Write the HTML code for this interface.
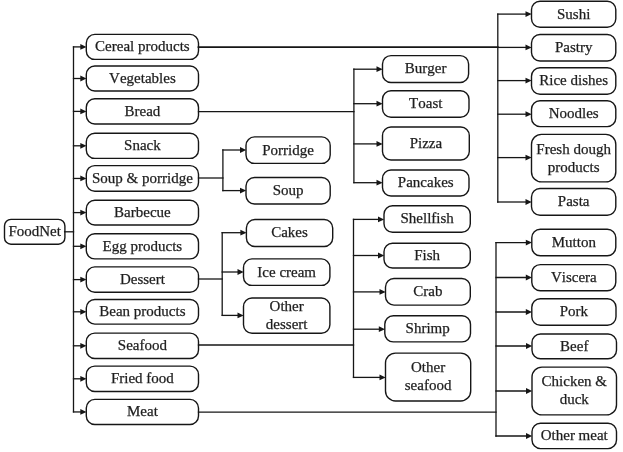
<!DOCTYPE html>
<html><head><meta charset="utf-8"><style>
html,body{margin:0;padding:0;background:#fff;}
svg{display:block;will-change:transform;}
text{font-family:"Liberation Serif",serif;font-size:15px;fill:#1e1e1e;stroke:#1e1e1e;stroke-width:0.25px;text-anchor:middle;font-kerning:none;}
</style></head><body>
<svg width="623" height="452" viewBox="0 0 623 452">
<rect width="623" height="452" fill="#fff"/>
<rect x="4.50" y="219.40" width="60.40" height="24.80" rx="6.5" ry="6.5" fill="#fff" stroke="#161616" stroke-width="1.4"/>
<text x="34.70" y="236.17">FoodNet</text>
<rect x="86.30" y="34.40" width="112.20" height="25.00" rx="8.5" ry="8.5" fill="#fff" stroke="#161616" stroke-width="1.4"/>
<text x="142.40" y="51.26">Cereal products</text>
<rect x="86.30" y="66.00" width="112.20" height="25.00" rx="8.5" ry="8.5" fill="#fff" stroke="#161616" stroke-width="1.4"/>
<text x="142.40" y="82.87">Vegetables</text>
<rect x="86.30" y="98.80" width="112.20" height="25.20" rx="8.5" ry="8.5" fill="#fff" stroke="#161616" stroke-width="1.4"/>
<text x="142.40" y="115.77">Bread</text>
<rect x="86.30" y="133.20" width="112.20" height="25.20" rx="8.5" ry="8.5" fill="#fff" stroke="#161616" stroke-width="1.4"/>
<text x="142.40" y="150.17">Snack</text>
<rect x="86.30" y="165.60" width="112.20" height="25.70" rx="8.5" ry="8.5" fill="#fff" stroke="#161616" stroke-width="1.4"/>
<text x="142.40" y="182.81">Soup &amp; porridge</text>
<rect x="86.30" y="200.20" width="112.20" height="24.80" rx="8.5" ry="8.5" fill="#fff" stroke="#161616" stroke-width="1.4"/>
<text x="142.40" y="216.97">Barbecue</text>
<rect x="86.30" y="233.70" width="112.20" height="25.20" rx="8.5" ry="8.5" fill="#fff" stroke="#161616" stroke-width="1.4"/>
<text x="142.40" y="250.66">Egg products</text>
<rect x="86.30" y="266.90" width="112.20" height="25.40" rx="8.5" ry="8.5" fill="#fff" stroke="#161616" stroke-width="1.4"/>
<text x="142.40" y="283.96">Dessert</text>
<rect x="86.30" y="299.50" width="112.20" height="24.60" rx="8.5" ry="8.5" fill="#fff" stroke="#161616" stroke-width="1.4"/>
<text x="142.40" y="316.16">Bean products</text>
<rect x="86.30" y="333.10" width="112.20" height="25.40" rx="8.5" ry="8.5" fill="#fff" stroke="#161616" stroke-width="1.4"/>
<text x="142.40" y="350.16">Seafood</text>
<rect x="86.30" y="366.10" width="112.20" height="25.40" rx="8.5" ry="8.5" fill="#fff" stroke="#161616" stroke-width="1.4"/>
<text x="142.40" y="383.16">Fried food</text>
<rect x="86.30" y="399.40" width="112.20" height="25.10" rx="8.5" ry="8.5" fill="#fff" stroke="#161616" stroke-width="1.4"/>
<text x="142.40" y="416.31">Meat</text>
<rect x="246.00" y="136.90" width="84.20" height="26.50" rx="8.5" ry="8.5" fill="#fff" stroke="#161616" stroke-width="1.4"/>
<text x="288.10" y="154.52">Porridge</text>
<rect x="246.00" y="177.50" width="84.20" height="26.50" rx="8.5" ry="8.5" fill="#fff" stroke="#161616" stroke-width="1.4"/>
<text x="288.10" y="195.12">Soup</text>
<rect x="246.40" y="219.50" width="86.30" height="27.00" rx="8.5" ry="8.5" fill="#fff" stroke="#161616" stroke-width="1.4"/>
<text x="289.55" y="237.37">Cakes</text>
<rect x="243.50" y="258.90" width="86.40" height="26.50" rx="8.5" ry="8.5" fill="#fff" stroke="#161616" stroke-width="1.4"/>
<text x="286.70" y="276.51">Ice cream</text>
<rect x="243.50" y="298.00" width="86.40" height="35.20" rx="8.5" ry="8.5" fill="#fff" stroke="#161616" stroke-width="1.4"/>
<text x="286.70" y="310.96">Other</text>
<text x="286.70" y="328.96">dessert</text>
<rect x="382.50" y="55.60" width="86.10" height="26.90" rx="8.5" ry="8.5" fill="#fff" stroke="#161616" stroke-width="1.4"/>
<text x="425.55" y="73.42">Burger</text>
<rect x="382.50" y="90.80" width="86.50" height="26.50" rx="8.5" ry="8.5" fill="#fff" stroke="#161616" stroke-width="1.4"/>
<text x="425.75" y="108.42">Toast</text>
<rect x="382.50" y="127.00" width="86.80" height="33.00" rx="8.5" ry="8.5" fill="#fff" stroke="#161616" stroke-width="1.4"/>
<text x="425.90" y="147.87">Pizza</text>
<rect x="382.50" y="170.00" width="86.50" height="26.00" rx="8.5" ry="8.5" fill="#fff" stroke="#161616" stroke-width="1.4"/>
<text x="425.75" y="187.37">Pancakes</text>
<rect x="384.00" y="205.80" width="86.30" height="26.40" rx="8.5" ry="8.5" fill="#fff" stroke="#161616" stroke-width="1.4"/>
<text x="427.15" y="223.37">Shellfish</text>
<rect x="384.00" y="243.20" width="86.30" height="24.80" rx="8.5" ry="8.5" fill="#fff" stroke="#161616" stroke-width="1.4"/>
<text x="427.15" y="259.96">Fish</text>
<rect x="385.50" y="278.50" width="84.80" height="26.60" rx="8.5" ry="8.5" fill="#fff" stroke="#161616" stroke-width="1.4"/>
<text x="427.90" y="296.16">Crab</text>
<rect x="384.80" y="315.80" width="85.70" height="26.10" rx="8.5" ry="8.5" fill="#fff" stroke="#161616" stroke-width="1.4"/>
<text x="427.65" y="333.21">Shrimp</text>
<rect x="385.50" y="353.10" width="85.20" height="47.90" rx="10" ry="10" fill="#fff" stroke="#161616" stroke-width="1.4"/>
<text x="428.10" y="372.41">Other</text>
<text x="428.10" y="390.41">seafood</text>
<rect x="531.50" y="1.30" width="84.30" height="26.00" rx="8.5" ry="8.5" fill="#fff" stroke="#161616" stroke-width="1.4"/>
<text x="573.65" y="18.66">Sushi</text>
<rect x="531.50" y="34.50" width="84.30" height="26.50" rx="8.5" ry="8.5" fill="#fff" stroke="#161616" stroke-width="1.4"/>
<text x="573.65" y="52.12">Pastry</text>
<rect x="531.50" y="67.70" width="84.30" height="26.50" rx="8.5" ry="8.5" fill="#fff" stroke="#161616" stroke-width="1.4"/>
<text x="573.65" y="85.32">Rice dishes</text>
<rect x="531.50" y="100.80" width="84.30" height="25.80" rx="8.5" ry="8.5" fill="#fff" stroke="#161616" stroke-width="1.4"/>
<text x="573.65" y="118.06">Noodles</text>
<rect x="531.50" y="134.40" width="84.30" height="47.50" rx="10" ry="10" fill="#fff" stroke="#161616" stroke-width="1.4"/>
<text x="573.65" y="153.52">Fresh dough</text>
<text x="573.65" y="171.52">products</text>
<rect x="531.50" y="188.50" width="84.30" height="26.80" rx="8.5" ry="8.5" fill="#fff" stroke="#161616" stroke-width="1.4"/>
<text x="573.65" y="206.27">Pasta</text>
<rect x="531.80" y="229.30" width="84.00" height="26.50" rx="8.5" ry="8.5" fill="#fff" stroke="#161616" stroke-width="1.4"/>
<text x="573.80" y="246.92">Mutton</text>
<rect x="531.80" y="264.60" width="84.00" height="26.20" rx="8.5" ry="8.5" fill="#fff" stroke="#161616" stroke-width="1.4"/>
<text x="573.80" y="282.06">Viscera</text>
<rect x="531.80" y="298.80" width="84.20" height="26.50" rx="8.5" ry="8.5" fill="#fff" stroke="#161616" stroke-width="1.4"/>
<text x="573.90" y="316.41">Pork</text>
<rect x="532.00" y="334.00" width="84.50" height="24.70" rx="8.5" ry="8.5" fill="#fff" stroke="#161616" stroke-width="1.4"/>
<text x="574.25" y="350.71">Beef</text>
<rect x="532.00" y="367.10" width="84.50" height="47.80" rx="10" ry="10" fill="#fff" stroke="#161616" stroke-width="1.4"/>
<text x="574.25" y="386.36">Chicken &amp;</text>
<text x="574.25" y="404.36">duck</text>
<rect x="532.00" y="423.30" width="84.50" height="25.30" rx="8.5" ry="8.5" fill="#fff" stroke="#161616" stroke-width="1.4"/>
<text x="574.25" y="440.31">Other meat</text>
<path d="M64.60,231.80 L73.50,231.80" fill="none" stroke="#161616" stroke-width="1.3" stroke-linejoin="miter" stroke-linecap="square"/>
<path d="M73.50,46.90 L81.30,46.90" fill="none" stroke="#161616" stroke-width="1.3" stroke-linejoin="miter" stroke-linecap="square"/>
<path d="M73.50,78.50 L81.30,78.50" fill="none" stroke="#161616" stroke-width="1.3" stroke-linejoin="miter" stroke-linecap="square"/>
<path d="M73.50,111.40 L81.30,111.40" fill="none" stroke="#161616" stroke-width="1.3" stroke-linejoin="miter" stroke-linecap="square"/>
<path d="M73.50,145.80 L81.30,145.80" fill="none" stroke="#161616" stroke-width="1.3" stroke-linejoin="miter" stroke-linecap="square"/>
<path d="M73.50,178.45 L81.30,178.45" fill="none" stroke="#161616" stroke-width="1.3" stroke-linejoin="miter" stroke-linecap="square"/>
<path d="M73.50,212.60 L81.30,212.60" fill="none" stroke="#161616" stroke-width="1.3" stroke-linejoin="miter" stroke-linecap="square"/>
<path d="M73.50,246.30 L81.30,246.30" fill="none" stroke="#161616" stroke-width="1.3" stroke-linejoin="miter" stroke-linecap="square"/>
<path d="M73.50,279.60 L81.30,279.60" fill="none" stroke="#161616" stroke-width="1.3" stroke-linejoin="miter" stroke-linecap="square"/>
<path d="M73.50,311.80 L81.30,311.80" fill="none" stroke="#161616" stroke-width="1.3" stroke-linejoin="miter" stroke-linecap="square"/>
<path d="M73.50,345.80 L81.30,345.80" fill="none" stroke="#161616" stroke-width="1.3" stroke-linejoin="miter" stroke-linecap="square"/>
<path d="M73.50,378.80 L81.30,378.80" fill="none" stroke="#161616" stroke-width="1.3" stroke-linejoin="miter" stroke-linecap="square"/>
<path d="M73.50,411.95 L81.30,411.95" fill="none" stroke="#161616" stroke-width="1.3" stroke-linejoin="miter" stroke-linecap="square"/>
<path d="M73.50,46.90 L73.50,411.95" fill="none" stroke="#161616" stroke-width="1.3" stroke-linejoin="miter" stroke-linecap="square"/>
<path d="M198.50,178.00 L222.90,178.00" fill="none" stroke="#161616" stroke-width="1.3" stroke-linejoin="miter" stroke-linecap="square"/>
<path d="M222.90,150.00 L241.00,150.00" fill="none" stroke="#161616" stroke-width="1.3" stroke-linejoin="miter" stroke-linecap="square"/>
<path d="M222.90,190.60 L241.00,190.60" fill="none" stroke="#161616" stroke-width="1.3" stroke-linejoin="miter" stroke-linecap="square"/>
<path d="M222.90,150.00 L222.90,190.60" fill="none" stroke="#161616" stroke-width="1.3" stroke-linejoin="miter" stroke-linecap="square"/>
<path d="M198.50,279.00 L222.20,279.00" fill="none" stroke="#161616" stroke-width="1.3" stroke-linejoin="miter" stroke-linecap="square"/>
<path d="M222.20,232.70 L241.40,232.70" fill="none" stroke="#161616" stroke-width="1.3" stroke-linejoin="miter" stroke-linecap="square"/>
<path d="M222.20,272.00 L238.50,272.00" fill="none" stroke="#161616" stroke-width="1.3" stroke-linejoin="miter" stroke-linecap="square"/>
<path d="M222.20,315.40 L238.50,315.40" fill="none" stroke="#161616" stroke-width="1.3" stroke-linejoin="miter" stroke-linecap="square"/>
<path d="M222.20,232.70 L222.20,315.40" fill="none" stroke="#161616" stroke-width="1.3" stroke-linejoin="miter" stroke-linecap="square"/>
<path d="M198.50,111.60 L353.90,111.60" fill="none" stroke="#161616" stroke-width="1.3" stroke-linejoin="miter" stroke-linecap="square"/>
<path d="M353.90,69.20 L377.50,69.20" fill="none" stroke="#161616" stroke-width="1.3" stroke-linejoin="miter" stroke-linecap="square"/>
<path d="M353.90,103.70 L377.50,103.70" fill="none" stroke="#161616" stroke-width="1.3" stroke-linejoin="miter" stroke-linecap="square"/>
<path d="M353.90,143.90 L377.50,143.90" fill="none" stroke="#161616" stroke-width="1.3" stroke-linejoin="miter" stroke-linecap="square"/>
<path d="M353.90,182.70 L377.50,182.70" fill="none" stroke="#161616" stroke-width="1.3" stroke-linejoin="miter" stroke-linecap="square"/>
<path d="M353.90,69.20 L353.90,182.70" fill="none" stroke="#161616" stroke-width="1.3" stroke-linejoin="miter" stroke-linecap="square"/>
<path d="M198.50,345.00 L353.50,345.00" fill="none" stroke="#161616" stroke-width="1.3" stroke-linejoin="miter" stroke-linecap="square"/>
<path d="M353.50,219.40 L379.00,219.40" fill="none" stroke="#161616" stroke-width="1.3" stroke-linejoin="miter" stroke-linecap="square"/>
<path d="M353.50,255.50 L379.00,255.50" fill="none" stroke="#161616" stroke-width="1.3" stroke-linejoin="miter" stroke-linecap="square"/>
<path d="M353.50,291.90 L380.50,291.90" fill="none" stroke="#161616" stroke-width="1.3" stroke-linejoin="miter" stroke-linecap="square"/>
<path d="M353.50,329.20 L379.80,329.20" fill="none" stroke="#161616" stroke-width="1.3" stroke-linejoin="miter" stroke-linecap="square"/>
<path d="M353.50,377.40 L380.50,377.40" fill="none" stroke="#161616" stroke-width="1.3" stroke-linejoin="miter" stroke-linecap="square"/>
<path d="M353.50,219.40 L353.50,377.40" fill="none" stroke="#161616" stroke-width="1.3" stroke-linejoin="miter" stroke-linecap="square"/>
<path d="M198.50,47.10 L497.80,47.10" fill="none" stroke="#161616" stroke-width="1.8" stroke-linejoin="miter" stroke-linecap="square"/>
<path d="M497.80,14.10 L526.50,14.10" fill="none" stroke="#161616" stroke-width="1.3" stroke-linejoin="miter" stroke-linecap="square"/>
<path d="M497.80,47.40 L526.50,47.40" fill="none" stroke="#161616" stroke-width="1.3" stroke-linejoin="miter" stroke-linecap="square"/>
<path d="M497.80,80.60 L526.50,80.60" fill="none" stroke="#161616" stroke-width="1.3" stroke-linejoin="miter" stroke-linecap="square"/>
<path d="M497.80,114.20 L526.50,114.20" fill="none" stroke="#161616" stroke-width="1.3" stroke-linejoin="miter" stroke-linecap="square"/>
<path d="M497.80,157.60 L526.50,157.60" fill="none" stroke="#161616" stroke-width="1.3" stroke-linejoin="miter" stroke-linecap="square"/>
<path d="M497.80,202.00 L526.50,202.00" fill="none" stroke="#161616" stroke-width="1.3" stroke-linejoin="miter" stroke-linecap="square"/>
<path d="M497.80,14.10 L497.80,202.00" fill="none" stroke="#161616" stroke-width="1.3" stroke-linejoin="miter" stroke-linecap="square"/>
<path d="M198.50,412.10 L496.00,412.10" fill="none" stroke="#161616" stroke-width="1.3" stroke-linejoin="miter" stroke-linecap="square"/>
<path d="M496.00,242.60 L526.80,242.60" fill="none" stroke="#161616" stroke-width="1.3" stroke-linejoin="miter" stroke-linecap="square"/>
<path d="M496.00,277.50 L526.80,277.50" fill="none" stroke="#161616" stroke-width="1.3" stroke-linejoin="miter" stroke-linecap="square"/>
<path d="M496.00,312.00 L526.80,312.00" fill="none" stroke="#161616" stroke-width="1.3" stroke-linejoin="miter" stroke-linecap="square"/>
<path d="M496.00,346.00 L527.00,346.00" fill="none" stroke="#161616" stroke-width="1.3" stroke-linejoin="miter" stroke-linecap="square"/>
<path d="M496.00,391.00 L527.00,391.00" fill="none" stroke="#161616" stroke-width="1.3" stroke-linejoin="miter" stroke-linecap="square"/>
<path d="M496.00,436.00 L527.00,436.00" fill="none" stroke="#161616" stroke-width="1.3" stroke-linejoin="miter" stroke-linecap="square"/>
<path d="M496.00,242.60 L496.00,436.00" fill="none" stroke="#161616" stroke-width="1.3" stroke-linejoin="miter" stroke-linecap="square"/>
<path d="M80.30,44.00 L86.50,46.90 L80.30,49.80 Z" fill="#161616"/>
<path d="M80.30,75.60 L86.50,78.50 L80.30,81.40 Z" fill="#161616"/>
<path d="M80.30,108.50 L86.50,111.40 L80.30,114.30 Z" fill="#161616"/>
<path d="M80.30,142.90 L86.50,145.80 L80.30,148.70 Z" fill="#161616"/>
<path d="M80.30,175.55 L86.50,178.45 L80.30,181.35 Z" fill="#161616"/>
<path d="M80.30,209.70 L86.50,212.60 L80.30,215.50 Z" fill="#161616"/>
<path d="M80.30,243.40 L86.50,246.30 L80.30,249.20 Z" fill="#161616"/>
<path d="M80.30,276.70 L86.50,279.60 L80.30,282.50 Z" fill="#161616"/>
<path d="M80.30,308.90 L86.50,311.80 L80.30,314.70 Z" fill="#161616"/>
<path d="M80.30,342.90 L86.50,345.80 L80.30,348.70 Z" fill="#161616"/>
<path d="M80.30,375.90 L86.50,378.80 L80.30,381.70 Z" fill="#161616"/>
<path d="M80.30,409.05 L86.50,411.95 L80.30,414.85 Z" fill="#161616"/>
<path d="M240.00,147.10 L246.20,150.00 L240.00,152.90 Z" fill="#161616"/>
<path d="M240.00,187.70 L246.20,190.60 L240.00,193.50 Z" fill="#161616"/>
<path d="M240.40,229.80 L246.60,232.70 L240.40,235.60 Z" fill="#161616"/>
<path d="M237.50,269.10 L243.70,272.00 L237.50,274.90 Z" fill="#161616"/>
<path d="M237.50,312.50 L243.70,315.40 L237.50,318.30 Z" fill="#161616"/>
<path d="M376.50,66.30 L382.70,69.20 L376.50,72.10 Z" fill="#161616"/>
<path d="M376.50,100.80 L382.70,103.70 L376.50,106.60 Z" fill="#161616"/>
<path d="M376.50,141.00 L382.70,143.90 L376.50,146.80 Z" fill="#161616"/>
<path d="M376.50,179.80 L382.70,182.70 L376.50,185.60 Z" fill="#161616"/>
<path d="M378.00,216.50 L384.20,219.40 L378.00,222.30 Z" fill="#161616"/>
<path d="M378.00,252.60 L384.20,255.50 L378.00,258.40 Z" fill="#161616"/>
<path d="M379.50,289.00 L385.70,291.90 L379.50,294.80 Z" fill="#161616"/>
<path d="M378.80,326.30 L385.00,329.20 L378.80,332.10 Z" fill="#161616"/>
<path d="M379.50,374.50 L385.70,377.40 L379.50,380.30 Z" fill="#161616"/>
<path d="M525.50,11.20 L531.70,14.10 L525.50,17.00 Z" fill="#161616"/>
<path d="M525.50,44.50 L531.70,47.40 L525.50,50.30 Z" fill="#161616"/>
<path d="M525.50,77.70 L531.70,80.60 L525.50,83.50 Z" fill="#161616"/>
<path d="M525.50,111.30 L531.70,114.20 L525.50,117.10 Z" fill="#161616"/>
<path d="M525.50,154.70 L531.70,157.60 L525.50,160.50 Z" fill="#161616"/>
<path d="M525.50,199.10 L531.70,202.00 L525.50,204.90 Z" fill="#161616"/>
<path d="M525.80,239.70 L532.00,242.60 L525.80,245.50 Z" fill="#161616"/>
<path d="M525.80,274.60 L532.00,277.50 L525.80,280.40 Z" fill="#161616"/>
<path d="M525.80,309.10 L532.00,312.00 L525.80,314.90 Z" fill="#161616"/>
<path d="M526.00,343.10 L532.20,346.00 L526.00,348.90 Z" fill="#161616"/>
<path d="M526.00,388.10 L532.20,391.00 L526.00,393.90 Z" fill="#161616"/>
<path d="M526.00,433.10 L532.20,436.00 L526.00,438.90 Z" fill="#161616"/>
</svg>
</body></html>
